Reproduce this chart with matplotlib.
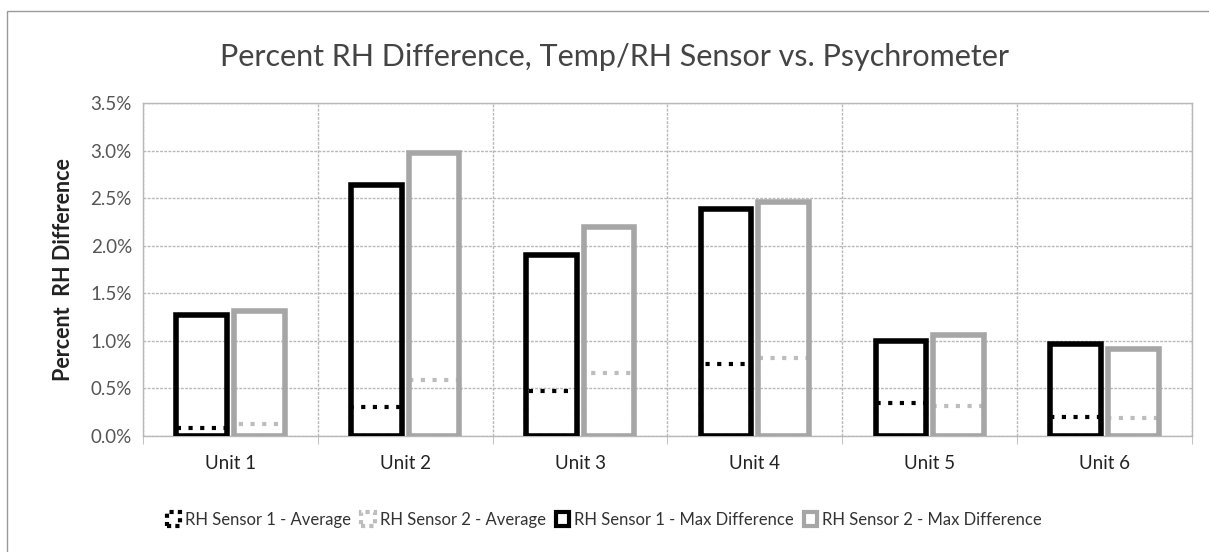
import numpy as np
import matplotlib.pyplot as plt
from matplotlib.patches import Rectangle, Patch
from matplotlib.ticker import PercentFormatter, FixedLocator

plt.rcParams['font.family'] = ['Lato', 'DejaVu Sans']

# Datos
units = ['Unit 1', 'Unit 2', 'Unit 3', 'Unit 4', 'Unit 5', 'Unit 6']
s1_avg = [0.08, 0.31, 0.47, 0.76, 0.35, 0.20]
s2_avg = [0.13, 0.59, 0.66, 0.82, 0.32, 0.19]
s1_max = [1.27, 2.64, 1.90, 2.39, 1.00, 0.97]
s2_max = [1.31, 2.97, 2.20, 2.46, 1.06, 0.91]
yticks = [0.0, 0.5, 1.0, 1.5, 2.0, 2.5, 3.0, 3.5]

black = '#000000'
gray = '#a6a6a6'
gray_avg = '#bdbdbd'
grid_c = '#b8b8b8'

fig = plt.figure(figsize=(12.09, 5.52), dpi=100)
ax = fig.add_axes([0.1183, 0.2101, 0.8676, 0.6033])

# Marco exterior
fig.patches.append(Rectangle((7 / 1209, -0.1), 1.2, (552 - 11) / 552 + 0.1,
                             transform=fig.transFigure, fill=False,
                             edgecolor='#9a9a9a', linewidth=1.0))

x = np.arange(len(units))
w = 0.29
off = 0.165

# Barras de promedio (contorno punteado)
ax.bar(x - off, s1_avg, w, facecolor='none', edgecolor=black, linewidth=3,
       linestyle=(0, (1, 1.8)), zorder=3)
ax.bar(x + off, s2_avg, w, facecolor='none', edgecolor=gray_avg, linewidth=3,
       linestyle=(0, (1, 1.8)), zorder=3)
# Barras de maximo (contorno solido)
ax.bar(x - off, s1_max, w, facecolor='none', edgecolor=black, linewidth=4, zorder=4)
ax.bar(x + off, s2_max, w, facecolor='none', edgecolor=gray, linewidth=4, zorder=4)

ax.set_xlim(-0.5, len(units) - 0.5)
ax.set_ylim(0, 3.5)
ax.set_yticks(yticks)
ax.yaxis.set_major_formatter(PercentFormatter(decimals=1))
ax.set_xticks(x)
ax.set_xticklabels(units, fontsize=13.5, color='#222222')
ax.xaxis.set_minor_locator(FixedLocator(np.arange(-0.5, len(units), 1.0)))
ax.tick_params(axis='x', which='major', length=0, pad=14)
ax.tick_params(axis='x', which='minor', length=6, color=grid_c)
ax.tick_params(axis='y', length=0, labelsize=13.5, labelcolor='#555555', pad=8)

# Cuadricula
ax.grid(axis='y', color=grid_c, linewidth=1, linestyle=(0, (2, 1)), zorder=0)
ax.grid(axis='x', which='minor', color=grid_c, linewidth=1,
        linestyle=(0, (2, 1)), zorder=0)
for s in ax.spines.values():
    s.set_color(grid_c)
    s.set_linewidth(1)

ax.set_ylabel('Percent  RH Difference', fontsize=15.5, fontweight='bold',
              color='#222222', labelpad=12)
fig.text(0.508, 0.897, 'Percent RH Difference, Temp/RH Sensor vs. Psychrometer',
         ha='center', va='center', fontsize=22, color='#444444')

# Leyenda
handles = [
    Patch(facecolor='none', edgecolor=black, linewidth=3, linestyle=(0, (1, 1))),
    Patch(facecolor='none', edgecolor=gray_avg, linewidth=3, linestyle=(0, (1, 1))),
    Patch(facecolor='none', edgecolor=black, linewidth=3),
    Patch(facecolor='none', edgecolor=gray, linewidth=3),
]
labels = ['RH Sensor 1 - Average', 'RH Sensor 2 - Average',
          'RH Sensor 1 - Max Difference', 'RH Sensor 2 - Max Difference']
fig.legend(handles, labels, loc='center', bbox_to_anchor=(0.5, 0.058), ncol=4,
           frameon=False, fontsize=12, handlelength=0.8, handleheight=0.9,
           handletextpad=0.3, columnspacing=0.6, labelcolor='#333333')

fig.savefig('out.png', dpi=100)
